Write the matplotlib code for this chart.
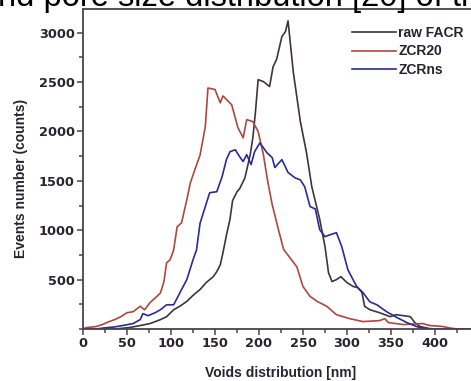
import numpy as np
import matplotlib
matplotlib.use('Agg')
import matplotlib.pyplot as plt
from matplotlib.ticker import MultipleLocator

plt.rcParams['font.family'] = ['Liberation Sans', 'DejaVu Sans']

#------------------------ data ------------------------

# raw FACR
raw_x = [0, 20, 40, 53, 65, 76, 88, 95, 103, 110, 118, 125, 133, 140, 148, 152, 156, 159, 163,
         167, 170, 175, 178, 184, 190, 193, 196, 199, 205, 212, 216, 220, 226, 230, 233, 239,
         247, 254, 260, 269, 275, 279, 283, 288, 293, 300, 307, 312, 317, 320, 326, 337, 349,
         356, 372, 377, 383, 393, 400, 420]
raw_y = [0, 0, 3, 15, 35, 55, 95, 125, 195, 230, 280, 340, 400, 470, 530, 580, 650, 770, 950,
         1110, 1300, 1390, 1420, 1530, 1765, 1935, 2200, 2525, 2505, 2455, 2655, 2730, 2960, 3010,
         3120, 2600, 2100, 1785, 1440, 1110, 835, 570, 480, 500, 530, 470, 430, 420, 370, 230,
         195, 165, 125, 145, 125, 65, 25, 5, 0, 0]

# ZCR20
z20_x = [0, 4, 10, 15, 22, 27, 36, 43, 50, 57, 65, 70, 76, 84, 88, 92, 95, 99, 103, 107, 112,
         118, 122, 127, 133, 139, 142, 150, 156, 159, 169, 176, 182, 186, 193, 199, 205, 210,
         215, 222, 228, 237, 243, 250, 258, 267, 277, 288, 303, 318, 337, 343, 347, 364, 386,
         394, 409, 417, 425, 440]
z20_y = [0, 15, 20, 25, 45, 65, 95, 125, 165, 175, 230, 195, 265, 330, 365, 480, 670, 700, 800,
         1035, 1075, 1310, 1480, 1610, 1760, 2050, 2440, 2425, 2290, 2360, 2270, 2040, 1935, 2120,
         2100, 2000, 1765, 1490, 1260, 1010, 805, 700, 630, 430, 330, 275, 230, 145, 105, 75, 85,
         105, 65, 45, 55, 35, 25, 10, 0, 0]

# ZCRns
zns_x = [0, 15, 23, 35, 45, 57, 65, 68, 74, 82, 88, 95, 103, 108, 112, 118, 125, 129, 133, 139,
         144, 152, 158, 163, 167, 173, 178, 182, 186, 191, 195, 201, 209, 215, 218, 226, 233,
         241, 247, 252, 258, 264, 269, 275, 281, 288, 294, 301, 311, 318, 326, 334, 345, 357,
         368, 379, 387, 400, 440]
zns_y = [0, 0, 10, 20, 35, 55, 95, 155, 135, 165, 195, 245, 245, 330, 400, 500, 700, 800, 1070,
         1240, 1380, 1390, 1540, 1715, 1795, 1815, 1745, 1695, 1765, 1665, 1795, 1885, 1785, 1735,
         1635, 1715, 1585, 1530, 1510, 1440, 1240, 1215, 1005, 935, 955, 975, 835, 600, 430, 370,
         275, 245, 175, 115, 65, 25, 5, 0, 0]

#------------------- Plotting ---------------
fig = plt.figure(figsize=(4.71, 3.81), dpi=100)
ax = fig.add_axes([83/471, 52/381, 396/471, 320/381])

# text of the page above the chart, cut off by the crop
fig.text(-0.004, 1 - 6/381, 'nd pore size distribution [20] of th', fontsize=23.5,
         color='black', va='baseline', ha='left')

ax.plot(raw_x, raw_y, color='#3d3540', lw=1.2, label='raw FACR')
ax.plot(z20_x, z20_y, color='#b0473c', lw=1.2, label='ZCR20')
ax.plot(zns_x, zns_y, color='#2a2a9c', lw=1.2, label='ZCRns')

ax.set_xlim(0, 450)
ax.set_ylim(0, 3240)
ax.set_xticks(np.arange(0, 401, 50))
ax.xaxis.set_minor_locator(MultipleLocator(25))
ax.set_yticks(np.arange(500, 3001, 500))
ax.yaxis.set_minor_locator(MultipleLocator(250))

ax.spines['right'].set_visible(False)
for s in ['left', 'bottom', 'top']:
    ax.spines[s].set_color('#4a4250')
    ax.spines[s].set_linewidth(1.3)

ax.tick_params(which='both', direction='out', color='#4a4250', width=1.1,
               labelcolor='#2a2230', pad=2)
ax.tick_params(which='major', length=4)
ax.tick_params(which='minor', length=3)
for lab in ax.get_xticklabels() + ax.get_yticklabels():
    lab.set_fontfamily('DejaVu Sans')
    lab.set_fontweight('bold')
    lab.set_fontsize(9.3)

ax.set_xlabel('Voids distribution [nm]', fontsize=10, fontweight='bold', color='#2a2230')
ax.set_ylabel('Events number (counts)', fontsize=10, fontweight='bold', color='#2a2230')
ax.xaxis.set_label_coords(0.5, -0.115)
ax.yaxis.set_label_coords(-0.14, 0.47)

leg = ax.legend(loc='upper left', bbox_to_anchor=(0.647, 0.985), frameon=False,
                handlelength=3.2, handletextpad=0.15, labelspacing=0.3,
                prop={'size': 10, 'weight': 'bold'})
for t in leg.get_texts():
    t.set_color('#2a2230')

fig.savefig('out.png', dpi=100)
